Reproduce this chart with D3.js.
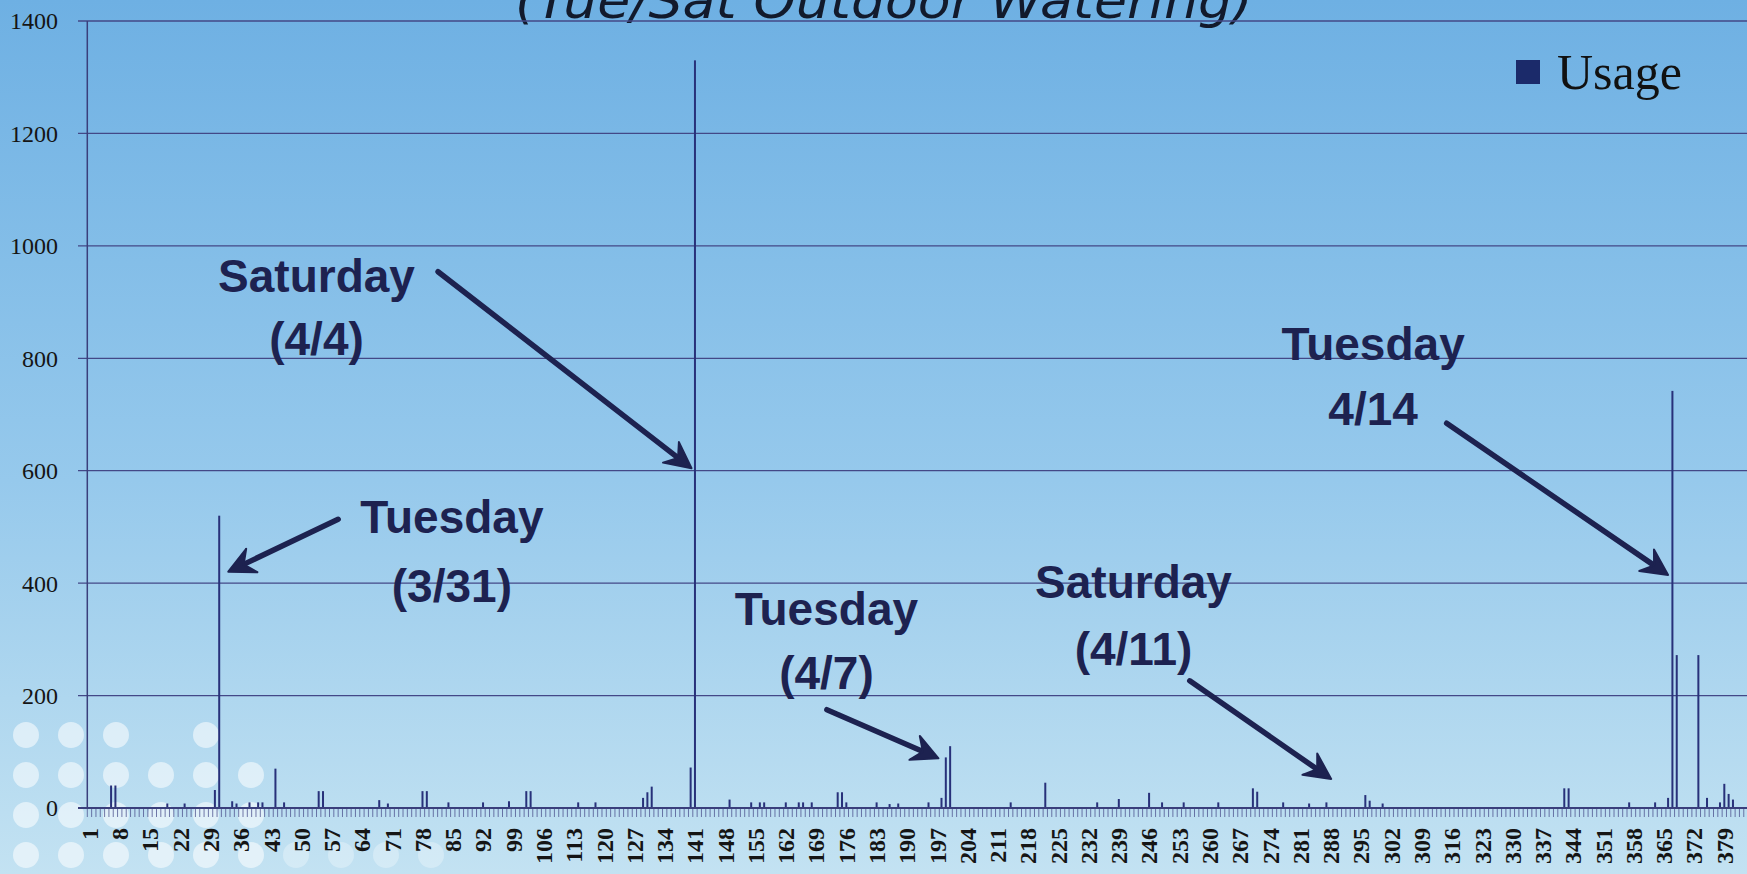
<!DOCTYPE html>
<html><head><meta charset="utf-8">
<script src="https://cdn.jsdelivr.net/npm/d3@7"></script>
<style>html,body{margin:0;padding:0;overflow:hidden;background:#9fcdeb}</style>
</head><body>
<svg id="chart" width="1747" height="874"></svg>
<script>
// ---------------- data ----------------
const categoryCount = 384;
const usageDays = [6,7,19,23,30,31,34,35,38,40,41,44,46,54,55,68,70,78,79,84,92,98,102,103,114,118,
  129,130,131,140,141,149,154,156,157,162,165,166,168,174,175,176,183,186,188,195,198,199,200,
  214,222,234,239,246,249,254,262,270,271,277,283,287,296,297,300,342,343,357,363,366,367,368,373,375,378,379,380,381];
const usageValues = [40,40,8,8,32,520,12,8,10,10,10,70,10,30,30,14,8,30,30,10,10,12,30,30,10,10,
  18,28,38,72,1330,15,10,10,10,10,10,10,10,28,28,10,10,7,8,10,18,90,110,
  10,45,10,16,27,10,10,10,35,29,10,8,10,23,13,8,35,35,10,10,18,742,272,272,18,10,43,25,15];
const yTickValues = [0,200,400,600,800,1000,1200,1400];
const xTickLabels = [1,8,15,22,29,36,43,50,57,64,71,78,85,92,99,106,113,120,127,134,141,148,155,162,169,176,183,190,197,204,211,218,225,232,239,246,253,260,267,274,281,288,295,302,309,316,323,330,337,344,351,358,365,372,379];
const titleText = "(Tue/Sat Outdoor Watering)";
const seriesName = "Usage";
// annotation positions expressed in data units (category, usage)
const annotationLines = [["Saturday","(4/4)"],["Tuesday","(3/31)"],["Tuesday","(4/7)"],["Saturday","(4/11)"],["Tuesday","4/14"]];
const annotationAt = [[53.5,918.5,805.9],[84.8,488.7,367.0],[171.4,325.5,212.4],[242.4,373.6,254.4],[297.8,797.0,681.3]];
const arrowFrom = [[81.6,954.0],[58.5,513.6],[171.5,174.9],[255.4,226.3],[314.8,684.4]];
const arrowTo = [[140.2,604.3],[33.1,420.4],[197.3,88.4],[288.1,51.6],[366.0,414.5]];

// ---------------- setup ----------------
const W = 1747, H = 874;
const svg = d3.select("#chart");
const categories = d3.range(1, categoryCount + 1);
const step = 4.325, x0 = 87.3;
const x = d3.scaleBand().domain(categories).range([x0, x0 + categoryCount * step]).paddingInner(0).paddingOuter(0);
const bw = x.bandwidth();
const y = d3.scaleLinear().domain([0, 1400]).range([808, 21]);
const xc = c => x0 + (c - 1) * step + bw / 2; // continuous category position for annotations

const defs = svg.append("defs");
const grad = defs.append("linearGradient").attr("id","bg").attr("x1",0).attr("y1",0).attr("x2",0).attr("y2",1);
[[0,"#6eb0e3"],[0.3,"#84bee8"],[0.55,"#96c9ec"],[0.8,"#afd7ef"],[1,"#c3e2f2"]].forEach(s =>
  grad.append("stop").attr("offset", s[0]).attr("stop-color", s[1]));
svg.append("rect").attr("width", W).attr("height", H).attr("fill", "url(#bg)");

// decorative dots (bottom-left)
const dotRows = [[0,1,2,4],[0,1,2,3,4,5],[0,1,2,3,4,5],[0,1,2,3,4,5,6,7,8,9]];
dotRows.forEach((cols, r) => cols.forEach(j => {
  svg.append("circle").attr("cx", 26 + 45 * j).attr("cy", 735 + 40 * r).attr("r", 13)
    .attr("fill", "#ffffff").attr("opacity", j > 5 ? 0.3 : 0.55);
}));

// title (cut at top)
svg.append("text").text(titleText)
  .attr("x", 515).attr("y", 18)
  .attr("textLength", 738).attr("lengthAdjust", "spacingAndGlyphs")
  .style("font-family", "'DejaVu Sans', sans-serif").style("font-style", "italic")
  .style("font-size", "50px").attr("fill", "#121a2c");

// gridlines
svg.append("g").selectAll("line").data(yTickValues.filter(v => v > 0)).join("line")
  .attr("x1", 78).attr("x2", W).attr("y1", d => y(d)).attr("y2", d => y(d))
  .attr("stroke", "#434887").attr("stroke-width", 1.3);

// y axis labels
svg.append("g").selectAll("text").data(yTickValues).join("text")
  .attr("x", 58).attr("y", d => y(d)).attr("dy", "0.35em").attr("text-anchor", "end")
  .style("font-family", "'Liberation Serif', 'Times New Roman', serif").style("font-size", "24px")
  .attr("fill", "#151515").text(d => d);

// vertical axis
svg.append("line").attr("x1", x0).attr("x2", x0).attr("y1", y(1400)).attr("y2", y(0))
  .attr("stroke", "#3a3f7c").attr("stroke-width", 1.5);

// category tick marks
svg.append("g").selectAll("line").data(categories).join("line")
  .attr("x1", d => x(d)).attr("x2", d => x(d)).attr("y1", y(0)).attr("y2", y(0) + 9)
  .attr("stroke", "#4a4f8c").attr("stroke-width", 1).attr("opacity", 0.75);

// bars
const barData = usageDays.map((d, i) => ({ day: d, value: usageValues[i] }));
svg.append("g").selectAll("rect").data(barData).join("rect")
  .attr("x", d => x(d.day) + bw / 2 - 1).attr("width", 2)
  .attr("y", d => y(d.value)).attr("height", d => y(0) - y(d.value))
  .attr("fill", "#28317a");

// baseline
svg.append("line").attr("x1", 78).attr("x2", W).attr("y1", y(0)).attr("y2", y(0))
  .attr("stroke", "#3a3f7c").attr("stroke-width", 2);

// category labels
svg.append("g").selectAll("text").data(xTickLabels).join("text")
  .attr("transform", d => `translate(${x(d) + bw / 2},${y(0) + 20}) rotate(-90)`)
  .attr("text-anchor", "end").attr("dy", "0.35em")
  .style("font-family", "'Liberation Serif', 'Times New Roman', serif").style("font-weight", "bold")
  .style("font-size", "24px").attr("fill", "#151515").text(d => d);

// legend
svg.append("rect").attr("x", 1516).attr("y", 60).attr("width", 24).attr("height", 24).attr("fill", "#1b2a6a");
svg.append("text").attr("x", 1557).attr("y", 89).text(seriesName)
  .style("font-family", "'Liberation Serif', 'Times New Roman', serif").style("font-size", "50px").attr("fill", "#111");

// annotations
const annColor = "#1d2250";
annotationLines.forEach((lines, i) => {
  const a = annotationAt[i];
  lines.forEach((t, k) => {
    svg.append("text").attr("x", xc(a[0])).attr("y", y(a[1 + k])).attr("text-anchor", "middle")
      .style("font-family", "'Liberation Sans', Arial, sans-serif").style("font-weight", "bold")
      .style("font-size", "46px").attr("fill", annColor).text(t);
  });
  const sx = xc(arrowFrom[i][0]), sy = y(arrowFrom[i][1]);
  const tx = xc(arrowTo[i][0]), ty = y(arrowTo[i][1]);
  const len = Math.hypot(tx - sx, ty - sy);
  const ux = (tx - sx) / len, uy = (ty - sy) / len;
  const nx = -uy, ny = ux;
  const L = 26, Wd = 13, notch = 9;
  svg.append("line").attr("x1", sx).attr("y1", sy)
    .attr("x2", tx - (L - notch) * ux).attr("y2", ty - (L - notch) * uy)
    .attr("stroke", annColor).attr("stroke-width", 5.5).attr("stroke-linecap", "round");
  const pts = [[tx, ty], [tx - L * ux + Wd * nx, ty - L * uy + Wd * ny],
    [tx - (L - notch) * ux, ty - (L - notch) * uy], [tx - L * ux - Wd * nx, ty - L * uy - Wd * ny]];
  svg.append("path").attr("d", "M" + pts.map(p => p.join(",")).join("L") + "Z")
    .attr("fill", annColor).attr("stroke", annColor).attr("stroke-width", 2).attr("stroke-linejoin", "round");
});
</script>
</body></html>
